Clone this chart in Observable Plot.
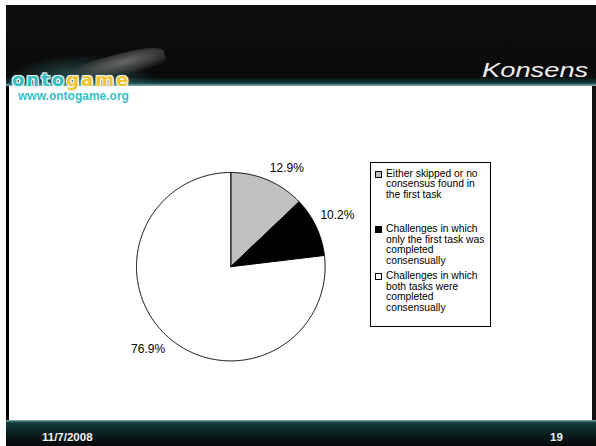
<!DOCTYPE html>
<html><head><meta charset="utf-8">
<script src="https://cdn.jsdelivr.net/npm/d3@7"></script>
<script src="https://cdn.jsdelivr.net/npm/@observablehq/plot@0.6"></script>
<style>
html,body{margin:0;padding:0;background:#fff;}
body{width:596px;height:446px;position:relative;overflow:hidden;font-family:"Liberation Sans",Arial,sans-serif;}
.abs{position:absolute;}
#header{left:6px;top:5px;width:590px;height:81px;overflow:hidden;
 background:
  radial-gradient(ellipse 75px 26px at 75px 76px, rgba(80,160,160,0.55), rgba(0,0,0,0) 100%),
  linear-gradient(to bottom,#0e0e0e 0px,#0a0a0a 72px,#0c2426 75px,#143a3c 78px,#4e7e80 79.5px,#90b2b2 81px);}
#cat{left:60px;top:50px;width:100px;height:22px;border-radius:50% 40% 30% 60%;
 background:radial-gradient(ellipse at 60% 40%,rgba(120,120,120,0.85),rgba(60,60,60,0.6) 55%,rgba(0,0,0,0) 75%);transform:rotate(-14deg);}
#title{left:476px;top:54px;font-size:21px;line-height:21px;font-style:italic;color:#eeeeee;white-space:nowrap;transform:scaleX(1.3);transform-origin:0 0;}
#frameL{left:6px;top:86px;width:3px;height:334px;background:#000;}
#frameR{left:592px;top:86px;width:4px;height:334px;background:#111;}
#footer{left:6px;top:420px;width:590px;height:26px;
 background:linear-gradient(to bottom,#8fb5b5 0px,#3a6a6c 1.5px,#0f3a3c 3px,#0b2224 12px,#050808 26px);}
#date{left:42px;top:431px;font-size:11.5px;font-weight:bold;color:#f2f2f2;}
#page{left:550px;top:431px;font-size:11.5px;font-weight:bold;color:#f2f2f2;}
#logo1{left:12px;top:69px;font-family:"DejaVu Sans",sans-serif;font-weight:bold;font-size:18px;letter-spacing:2px;line-height:22px;
 text-shadow:0 0 2px #fff,1px 1px 0 #e8f4f4,-1px -1px 0 #e8f4f4,1px -1px 0 #e8f4f4,-1px 1px 0 #e8f4f4;}
#logo2{left:18px;top:89px;font-size:12px;font-weight:bold;color:#35c2cb;}
#legend{left:370px;top:162px;width:119px;height:163px;border:1px solid #000;background:#fff;}
.entry{position:absolute;left:0;font-size:10.3px;line-height:10.7px;color:#000;}
.sw{position:absolute;left:4px;width:5px;height:5px;border:1px solid #000;}
.txt{position:absolute;left:15px;white-space:nowrap;}
#chart{left:110px;top:150px;}
</style></head><body>
<div id="header" class="abs">
  <div id="cat" class="abs"></div>
  <div id="title" class="abs">Konsens</div>
</div>
<div id="logo1" class="abs"><span style="color:#36bfc2">onto</span><span style="color:#f0c42c">game</span></div>
<div id="logo2" class="abs">www.ontogame.org</div>
<div id="frameL" class="abs"></div>
<div id="frameR" class="abs"></div>
<div id="footer" class="abs"></div>
<div id="date" class="abs">11/7/2008</div>
<div id="page" class="abs">19</div>
<div id="chart" class="abs"></div>
<div id="legend" class="abs"></div>
<script>
const categories = [
  "Either skipped or no consensus found in the first task",
  "Challenges in which only the first task was completed consensually",
  "Challenges in which both tasks were completed consensually"
];
const legendLines = [
  ["Either skipped or no", "consensus found in", "the first task"],
  ["Challenges in which", "only the first task was", "completed", "consensually"],
  ["Challenges in which", "both tasks were", "completed", "consensually"]
];
const shares = [12.9, 10.2, 76.9];
const valueLabels = ["12.9%", "10.2%", "76.9%"];
const sliceColors = ["#c0c0c0", "#000000", "#ffffff"];

// slice geometry from the data (angles measured clockwise from 12 o'clock)
const total = d3.sum(shares);
let acc = 0;
const slices = shares.map((v, i) => {
  const a0 = acc / total * 2 * Math.PI; acc += v;
  const a1 = acc / total * 2 * Math.PI;
  return {cat: categories[i], a0, a1, mid: (a0 + a1) / 2, label: valueLabels[i]};
});
const pts = [];
for (const s of slices) {
  pts.push({cat: s.cat, x: 0, y: 0});
  const n = Math.max(2, Math.ceil((s.a1 - s.a0) / (Math.PI / 360)));
  for (let k = 0; k <= n; k++) {
    const a = s.a0 + (s.a1 - s.a0) * k / n;
    pts.push({cat: s.cat, x: Math.sin(a), y: Math.cos(a)});
  }
  pts.push({cat: s.cat, x: 0, y: 0});
}
const labelData = slices.map(s => ({
  label: s.label,
  side: Math.sign(Math.sin(s.mid)),
  x: 1.05 * Math.sin(s.mid),
  y: 1.02 * Math.cos(s.mid) + 0.11 * Math.sign(Math.cos(s.mid))
}));

const chart = Plot.plot({
  width: 270, height: 240,
  marginLeft: 26, marginRight: 55.4, marginTop: 22, marginBottom: 29.6,
  x: {domain: [-1, 1], axis: null},
  y: {domain: [-1, 1], axis: null},
  color: {domain: categories, range: sliceColors},
  style: {background: "transparent", fontFamily: "'Liberation Sans', Arial, sans-serif", overflow: "visible"},
  marks: [
    Plot.line(pts, {x: "x", y: "y", z: "cat", fill: "cat", stroke: "#000", strokeWidth: 1, strokeLinejoin: "round"}),
    Plot.text(labelData.filter(d => d.side >= 0), {x: "x", y: "y", text: "label", textAnchor: "start", fontSize: 12, fill: "#000"}),
    Plot.text(labelData.filter(d => d.side < 0), {x: "x", y: "y", text: "label", textAnchor: "end", fontSize: 12, fill: "#000"})
  ]
});
document.getElementById("chart").appendChild(chart);

// legend (HTML), colours from the same colour scale
const legend = document.getElementById("legend");
const entryTops = [5.5, 61, 108];
legendLines.forEach((lines, i) => {
  const e = document.createElement("div");
  e.className = "entry";
  e.style.top = entryTops[i] + "px";
  const sw = document.createElement("div");
  sw.className = "sw";
  sw.style.top = "2px";
  sw.style.background = chart.scale("color").apply(categories[i]);
  const t = document.createElement("div");
  t.className = "txt";
  t.innerHTML = lines.join("<br>");
  e.appendChild(sw); e.appendChild(t);
  legend.appendChild(e);
});
</script>
</body></html>
